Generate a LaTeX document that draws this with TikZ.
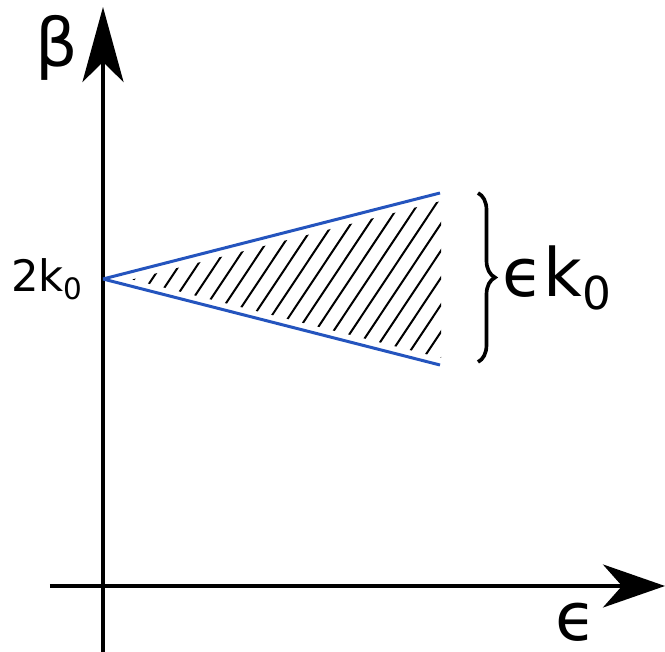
\documentclass[tikz,border=0pt]{standalone}
\usepackage{fontspec}
\setmainfont{DejaVu Sans}
\usetikzlibrary{arrows.meta,decorations.pathreplacing}
\definecolor{edgeblue}{RGB}{36,84,190}
\newcommand{\lowsub}[1]{\raisebox{-0.18em}{\scalebox{0.68}{#1}}}

\begin{document}
\begin{tikzpicture}[x=0.3mm, y=0.3mm]
  \tikzset{
    axis/.style={line width=1.2mm},
    edgeline/.style={line width=0.9mm, edgeblue},
    hatchline/.style={line width=0.6mm},
    biglbl/.style={font=\fontsize{57}{68}\selectfont, anchor=base, inner sep=0pt},
    smalllbl/.style={font=\fontsize{37}{44}\selectfont, anchor=base, inner sep=0pt}
  }
  \useasboundingbox (-103,-66) rectangle (562,586);
  % axes
  \coordinate (ybot) at (0,-66);
  \coordinate (ytop) at (0,579);
  \coordinate (xleft) at (-53,0);
  \coordinate (xright) at (562,0);
  \draw[axis, -{Stealth[length=22.5mm, width=12.3mm, inset=6mm]}] (ybot) -- (ytop);
  \draw[axis, -{Stealth[length=18.6mm, width=12.9mm, inset=5.7mm]}] (xleft) -- (xright);
  \node[biglbl] (beta) at (-46,519) {β};
  \node[biglbl] (eps) at (473,-55) {ϵ};
  % the wedge
  \coordinate (apex) at (0,307);
  \coordinate (up) at (337,393);
  \coordinate (low) at (337,221);
  \begin{scope}
    \clip (29,306.5) -- (338,385) -- (338,228) -- cycle;
    \foreach \i in {-76,-58,...,340}
      \draw[hatchline] (\i,200) -- ++(133,200);
  \end{scope}
  \draw[edgeline] (apex) -- (up);
  \draw[edgeline] (apex) -- (low);
  \node[smalllbl] (two) at (-56,294) {2k\lowsub{0}};
  % brace and width
  \coordinate (bup) at (375,393);
  \coordinate (blow) at (375,224);
  \draw[decorate, decoration={brace, amplitude=5.1mm}, line width=1.1mm] (bup) -- (blow);
  \node[biglbl] (width) at (454,289) {ϵk\lowsub{0}};
\end{tikzpicture}
\end{document}
